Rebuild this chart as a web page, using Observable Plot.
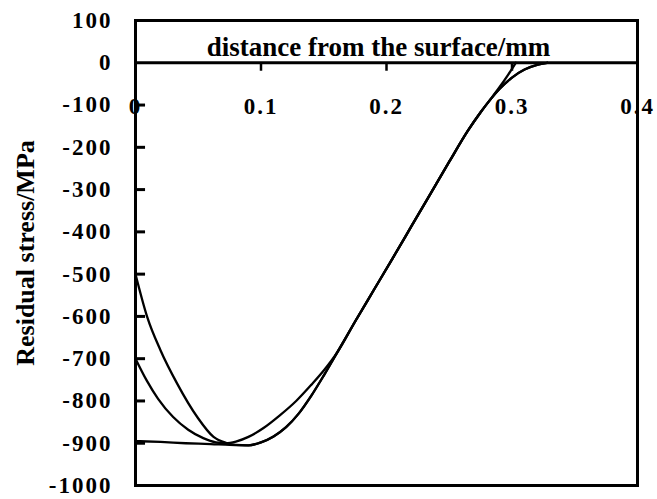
<!DOCTYPE html>
<html>
<head>
<meta charset="utf-8">
<script src="https://cdn.jsdelivr.net/npm/d3@7"></script>
<script src="https://cdn.jsdelivr.net/npm/@observablehq/plot@0.6"></script>
<style>
  html, body { margin: 0; padding: 0; background: #fff; }
</style>
</head>
<body>
<div id="chart"></div>
<script>
// Residual stress profiles (MPa) versus distance from the surface (mm)
const depthA  = [0, 0.0093, 0.0199, 0.0332, 0.0492, 0.0622, 0.072, 0.080, 0.090, 0.100, 0.110, 0.120, 0.130, 0.140, 0.150, 0.161, 0.175, 0.190, 0.205, 0.220, 0.235, 0.250, 0.265, 0.275, 0.283, 0.290, 0.300, 0.310, 0.320, 0.328];
const stressA = [-500, -601, -680, -759, -838, -885, -899, -904, -905, -898, -884, -862, -830, -788, -740, -684, -612, -537, -462, -386, -310, -234, -160, -117, -86, -62, -35, -16, -5, 0];

const depthB  = [0, 0.009, 0.018, 0.030, 0.042, 0.054, 0.064, 0.072, 0.080, 0.090, 0.102, 0.115, 0.128, 0.140, 0.150, 0.161, 0.175, 0.190, 0.205, 0.220, 0.235, 0.250, 0.265, 0.275, 0.283, 0.290, 0.297, 0.303];
const stressB = [-700, -752, -795, -838, -868, -888, -898, -900, -896, -885, -864, -834, -800, -762, -728, -684, -612, -537, -462, -386, -310, -234, -160, -117, -86, -58, -28, 0];

const depthC  = [0, 0.020, 0.040, 0.060, 0.075, 0.090, 0.100, 0.110, 0.120, 0.130, 0.140, 0.150, 0.161, 0.175, 0.190, 0.205, 0.220, 0.235, 0.250, 0.265, 0.275, 0.283, 0.290, 0.300, 0.310, 0.320, 0.328];
const stressC = [-895, -897, -900, -902, -904, -905, -898, -884, -862, -830, -788, -740, -684, -612, -537, -462, -386, -310, -234, -160, -117, -86, -62, -35, -16, -5, 0];

const yTicks = [100, 0, -100, -200, -300, -400, -500, -600, -700, -800, -900, -1000];
const yTickMarks = [-100, -200, -300, -400, -500, -600, -700, -800, -900];
const xTicks = [0, 0.1, 0.2, 0.3, 0.4];
const xTickMarks = [0.1, 0.2, 0.3];

const title = "distance from the surface/mm";
const yLabel = "Residual stress/MPa";

const rows = [
  ...depthA.map((d, i) => ({series: "A", depth: d, stress: stressA[i]})),
  ...depthB.map((d, i) => ({series: "B", depth: d, stress: stressB[i]})),
  ...depthC.map((d, i) => ({series: "C", depth: d, stress: stressC[i]}))
];

const tickLenX = 0.008; // inward tick length on the stress axis, in mm
const tickLenY = 20;    // downward tick length on the zero line, in MPa

const chart = Plot.plot({
  width: 657,
  height: 499,
  marginTop: 20,
  marginRight: 20,
  marginBottom: 14,
  marginLeft: 135,
  x: {domain: [0, 0.4], axis: null},
  y: {domain: [-1000, 100], axis: null},
  style: {
    fontFamily: '"Liberation Serif", "Times New Roman", serif',
    fontWeight: "bold",
    background: "#fff",
    color: "#000"
  },
  marks: [
    Plot.frame({stroke: "#000", strokeWidth: 3}),
    Plot.ruleY([0], {stroke: "#000", strokeWidth: 3}),
    Plot.ruleY(yTickMarks, {y: d => d, x1: 0, x2: tickLenX, stroke: "#000", strokeWidth: 3}),
    Plot.ruleX(xTickMarks, {x: d => d, y1: 0, y2: -tickLenY, stroke: "#000", strokeWidth: 2.5}),
    Plot.axisY({
      ticks: yTicks,
      tickSize: 0,
      tickPadding: 23,
      tickFormat: d => String(d),
      fontSize: 23,
      fontWeight: "bold",
      label: null
    }),
    Plot.text(xTicks, {
      x: d => d,
      y: 0,
      text: d => String(d),
      dy: 51,
      lineAnchor: "bottom",
      fontSize: 23,
      fontWeight: "bold",
      fill: "#000"
    }),
    Plot.text([title], {
      text: d => d,
      frameAnchor: "top",
      dx: -8,
      dy: 35,
      lineAnchor: "bottom",
      fontSize: 27,
      fontWeight: "bold",
      fill: "#000"
    }),
    Plot.text([yLabel], {
      text: d => d,
      frameAnchor: "left",
      textAnchor: "middle",
      rotate: -90,
      dx: -102,
      lineAnchor: "bottom",
      fontSize: 26,
      fontWeight: "bold",
      fill: "#000"
    }),
    Plot.line(rows, {
      x: "depth",
      y: "stress",
      z: "series",
      curve: "monotone-x",
      stroke: "#000",
      strokeWidth: 2.3
    })
  ]
});

// widen the numeric tick labels slightly
d3.select(chart).selectAll("g")
  .filter(function() { return this.getAttribute("font-size") === "23"; })
  .style("letter-spacing", "2px");

document.getElementById("chart").appendChild(chart);
</script>
</body>
</html>
